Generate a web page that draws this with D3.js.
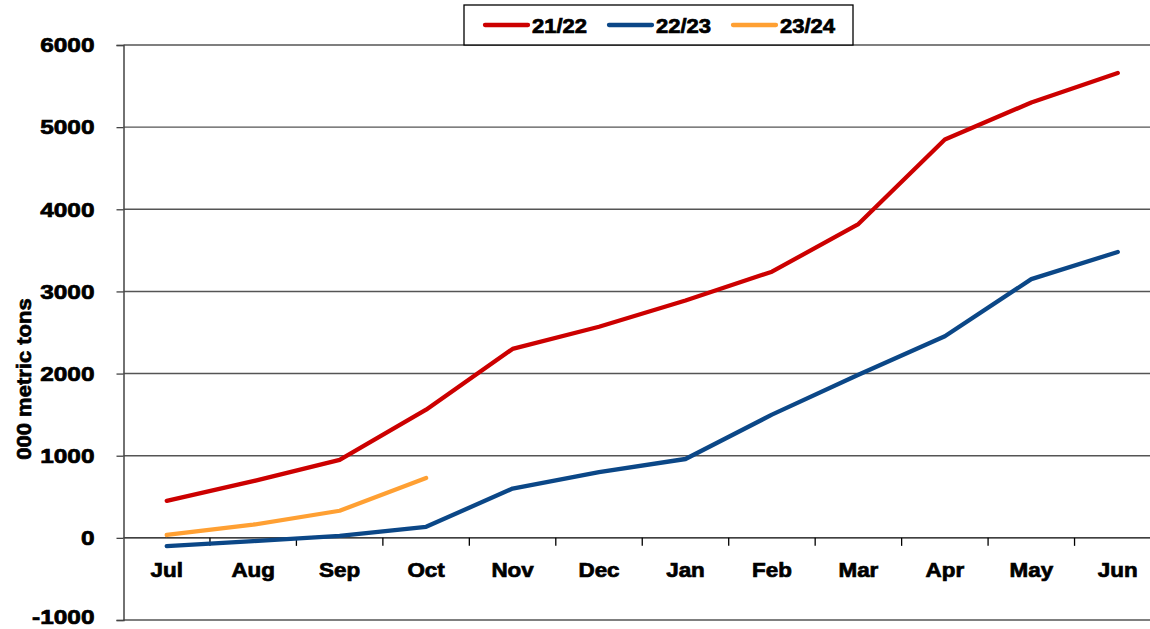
<!DOCTYPE html>
<html>
<head>
<meta charset="utf-8">
<script src="https://cdn.jsdelivr.net/npm/d3@7"></script>
<style>
    body { margin: 0; background: #fff; }
    svg text { font-family: "Liberation Sans", Arial, sans-serif; font-weight: bold; fill: #000; stroke: #000; stroke-width: 0.7px; }
</style>
</head>
<body>
<div id="chart"></div>
<script>
(function(){
    'use strict';

    var months = ['Jul', 'Aug', 'Sep', 'Oct', 'Nov', 'Dec', 'Jan', 'Feb', 'Mar', 'Apr', 'May', 'Jun'];
    var seriesNames = ['21/22', '22/23', '23/24'];
    var seriesColors = ['#cc0000', '#0b4787', '#ffa033'];
    var values2122 = [450, 690, 950, 1560, 2300, 2570, 2890, 3240, 3820, 4850, 5300, 5660];
    var values2223 = [-100, -40, 25, 135, 600, 800, 960, 1500, 1985, 2455, 3150, 3480];
    var values2324 = [35, 160, 330, 730];
    var yTicks = [-1000, 0, 1000, 2000, 3000, 4000, 5000, 6000];

    var series = [values2122, values2223, values2324].map(function (vals, i) {
        return {name: seriesNames[i], color: seriesColors[i], values: vals};
    });

    var margin = {top: 45, right: -11, bottom: 9, left: 123.5},
        width = 1150 - margin.left - margin.right,
        height = 629 - margin.top - margin.bottom;

    var x = d3.scaleBand()
        .domain(months)
        .range([0, width]);

    var y = d3.scaleLinear()
        .domain([-1000, 6000])
        .range([height, 0]);

    // widen bold text toward the heavy face of the original
    function stretch(sel, k) {
        sel.each(function () {
            var len = this.getComputedTextLength();
            d3.select(this)
                .attr('textLength', len * k)
                .attr('lengthAdjust', 'spacingAndGlyphs');
        });
    }

    var svg = d3.select('#chart').append('svg')
        .attr('width', 1150)
        .attr('height', 629);

    var g = svg.append('g')
        .attr('transform', 'translate(' + margin.left + ',' + margin.top + ')');

    // gridlines
    g.append('g')
        .selectAll('line')
        .data(yTicks)
        .enter().append('line')
        .attr('x1', 0)
        .attr('x2', width)
        .attr('y1', function (d) { return y(d); })
        .attr('y2', function (d) { return y(d); })
        .attr('stroke', function (d) { return d === 0 ? '#000' : '#555'; })
        .attr('stroke-width', 1.4);

    // y axis
    var yAxis = g.append('g')
        .call(d3.axisLeft(y).tickValues(yTicks).tickSize(7).tickPadding(22)
            .tickFormat(function (d) { return String(d); }));
    yAxis.select('.domain').attr('stroke', '#444').attr('stroke-width', 1.5);
    yAxis.selectAll('.tick line').attr('stroke', '#444').attr('stroke-width', 1.3);
    yAxis.selectAll('text')
        .style('font-size', '20px')
        .attr('dy', function (d) { return d === -1000 ? '0.15em' : '0.34em'; });
    stretch(yAxis.selectAll('text'), 1.22);

    // x axis on zero line, ticks at category boundaries
    var xAxis = g.append('g')
        .attr('transform', 'translate(0,' + y(0) + ')');
    xAxis.selectAll('line')
        .data(months.slice(1))
        .enter().append('line')
        .attr('x1', function (d) { return x(d); })
        .attr('x2', function (d) { return x(d); })
        .attr('y1', 0)
        .attr('y2', 8)
        .attr('stroke', '#000')
        .attr('stroke-width', 1.3);
    var monthText = xAxis.selectAll('text')
        .data(months)
        .enter().append('text')
        .attr('x', function (d) { return x(d) + x.bandwidth() / 2; })
        .attr('y', 39)
        .attr('text-anchor', 'middle')
        .style('font-size', '20px')
        .text(function (d) { return d; });
    stretch(monthText, 1.12);

    // y axis title
    var title = svg.append('text')
        .attr('transform', 'translate(31,379) rotate(-90)')
        .attr('text-anchor', 'middle')
        .style('font-size', '20px')
        .text('000 metric tons');
    stretch(title, 1.1);

    // lines
    var line = d3.line()
        .x(function (d, i) { return x(months[i]) + x.bandwidth() / 2; })
        .y(function (d) { return y(d); });

    g.selectAll('.series')
        .data(series)
        .enter().append('path')
        .attr('class', 'series')
        .attr('fill', 'none')
        .attr('stroke', function (d) { return d.color; })
        .attr('stroke-width', 4.3)
        .attr('stroke-linejoin', 'round')
        .attr('stroke-linecap', 'round')
        .attr('d', function (d) { return line(d.values); });

    // legend
    var legend = svg.append('g')
        .attr('transform', 'translate(464,5)');
    legend.append('rect')
        .attr('width', 389)
        .attr('height', 40)
        .attr('fill', '#fff')
        .attr('stroke', '#000')
        .attr('stroke-width', 1.3);

    var item = legend.selectAll('.item')
        .data(series)
        .enter().append('g')
        .attr('class', 'item')
        .attr('transform', function (d, i) { return 'translate(' + (21 + i * 124) + ',20)'; });
    item.append('line')
        .attr('x1', 0)
        .attr('x2', 43)
        .attr('stroke', function (d) { return d.color; })
        .attr('stroke-width', 4.3)
        .attr('stroke-linecap', 'round');
    var legendText = item.append('text')
        .attr('x', 47)
        .attr('y', 8)
        .style('font-size', '20px')
        .text(function (d) { return d.name; });
    stretch(legendText, 1.1);
})();
</script>
</body>
</html>
